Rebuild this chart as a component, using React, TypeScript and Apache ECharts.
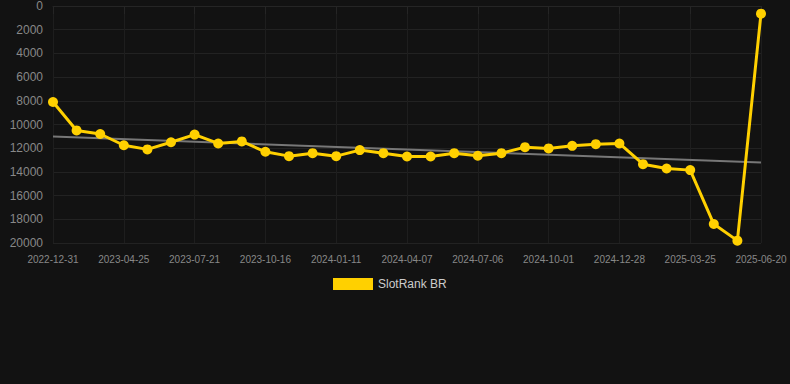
import React, { useEffect, useRef } from "react";
import * as echarts from "echarts";

const dates = [
  "2022-12-31", "2023-01-29", "2023-03-27", "2023-04-25", "2023-05-24", "2023-06-22",
  "2023-07-21", "2023-08-19", "2023-09-17", "2023-10-16", "2023-11-14", "2023-12-13",
  "2024-01-11", "2024-02-09", "2024-03-09", "2024-04-07", "2024-05-07", "2024-06-06",
  "2024-07-06", "2024-08-04", "2024-09-02", "2024-10-01", "2024-10-30", "2024-11-29",
  "2024-12-28", "2025-01-26", "2025-02-24", "2025-03-25", "2025-04-23", "2025-05-22",
  "2025-06-20",
];

const rankValues = [
  8100, 10500, 10800, 11750, 12100, 11500, 10850, 11600, 11430, 12300, 12670,
  12420, 12670, 12160, 12420, 12700, 12700, 12420, 12640, 12420, 11910, 12020,
  11800, 11660, 11600, 13350, 13710, 13850, 18400, 19800, 650,
];

const trendStart = 11020;
const trendEnd = 13200;

const yMin = 0;
const yMax = 20000;
const yInterval = 2000;

export default function App() {
  const ref = useRef<HTMLDivElement>(null);
  useEffect(() => {
    if (!ref.current) return;
    const chart = echarts.init(ref.current, null, { renderer: "svg" });
    const trend = dates.map((_, i) =>
      i === 0 ? trendStart : i === dates.length - 1 ? trendEnd : null
    );
    chart.setOption({
      animation: false,
      backgroundColor: "#121212",
      textStyle: { fontFamily: "Liberation Sans, Arial, sans-serif" },
      grid: { left: 53, right: 29, top: 6, bottom: 141 },
      legend: {
        data: [{ name: "SlotRank BR", icon: "rect" }],
        top: 273,
        left: 328,
        itemWidth: 40,
        itemHeight: 12,
        textStyle: { color: "#cccccc", fontSize: 12 },
      },
      xAxis: {
        type: "category",
        data: dates,
        boundaryGap: false,
        axisLine: { show: true, lineStyle: { color: "#252525" } },
        axisTick: { show: true, interval: 2, length: 8, lineStyle: { color: "#252525" } },
        axisLabel: { interval: 2, color: "#888888", fontSize: 10, margin: 11 },
        splitLine: { show: true, interval: 2, lineStyle: { color: "#1e1e1e" } },
      },
      yAxis: {
        type: "value",
        inverse: true,
        min: yMin,
        max: yMax,
        interval: yInterval,
        axisLine: { show: false },
        axisTick: { show: false },
        axisLabel: {
          color: "#888888",
          fontSize: 12,
          margin: 10,
          formatter: (v: number) => String(v),
        },
        splitLine: { show: true, lineStyle: { color: "#222222" } },
      },
      series: [
        {
          name: "Trend",
          type: "line",
          data: trend,
          connectNulls: true,
          symbol: "none",
          lineStyle: { color: "#777777", width: 2 },
          itemStyle: { color: "#777777" },
          z: 1,
        },
        {
          name: "SlotRank BR",
          type: "line",
          data: rankValues,
          symbol: "circle",
          symbolSize: 10,
          lineStyle: { color: "#ffd000", width: 3 },
          itemStyle: { color: "#ffd000" },
          z: 2,
        },
      ],
    });
    return () => chart.dispose();
  }, []);
  return (
    <div
      ref={ref}
      style={{ position: "fixed", left: 0, top: 0, width: 790, height: 384 }}
    />
  );
}
